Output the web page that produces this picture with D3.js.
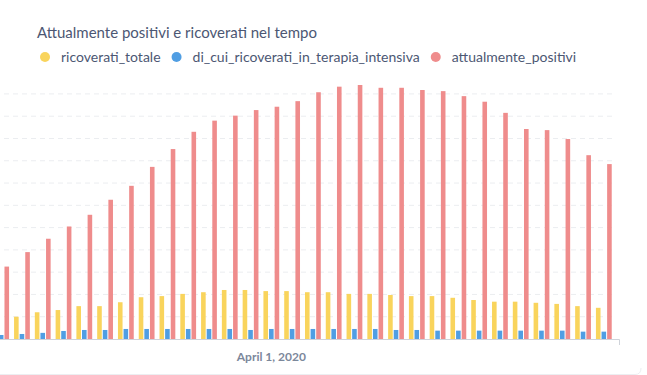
<!DOCTYPE html>
<html>
<head>
<meta charset="utf-8">
<script src="https://cdn.jsdelivr.net/npm/d3@7"></script>
<style>
  body { margin: 0; background: #fff; overflow: hidden; }
  svg { display: block; font-family: Lato, "Open Sans", sans-serif; }
</style>
</head>
<body>
<svg id="chart" width="647" height="375"></svg>
<script>
// days shown (March 19 - April 17, 2020)
var dates = d3.timeDays(new Date(2020, 2, 19), new Date(2020, 3, 18));

var ricoverati_totale = [170, 200, 240, 260, 295, 295, 330, 375, 385, 405, 420, 440, 440, 430,
  430, 420, 420, 405, 405, 395, 385, 385, 370, 350, 335, 335, 325, 315, 295, 280];
var terapia_intensiva = [36, 45, 55, 72, 81, 81, 90, 90, 90, 90, 90, 90, 81, 90,
  90, 90, 90, 90, 90, 81, 81, 75, 75, 75, 75, 75, 75, 75, 66, 66];
var attualmente_positivi = [650, 780, 900, 1010, 1115, 1250, 1375, 1545, 1705, 1860, 1960, 2005, 2055, 2085,
  2135, 2215, 2265, 2280, 2255, 2255, 2235, 2225, 2180, 2130, 2030, 1885, 1875, 1795, 1650, 1570];

var seriesNames = ["ricoverati_totale", "di_cui_ricoverati_in_terapia_intensiva", "attualmente_positivi"];
var seriesValues = [ricoverati_totale, terapia_intensiva, attualmente_positivi];
var colors = ["#F9D45C", "#509EE3", "#EF8C8C"];
var xTickDates = [new Date(2020, 3, 1)];
var yStep = 200;

var svg = d3.select("#chart"),
    // chart is scrolled a little, so the left edge of the plot sits off screen
    margin = {top: 85, right: 28, bottom: 36, left: -14},
    width = +svg.attr("width") - margin.left - margin.right,
    height = +svg.attr("height") - margin.top - margin.bottom;

// card edge at the bottom
svg.append("path")
    .attr("d", "M0,374.5 H635 Q641,374.5 641,368")
    .attr("fill", "none")
    .attr("stroke", "#eceef1");

// title
svg.append("text")
    .attr("x", 37)
    .attr("y", 38)
    .attr("fill", "#4C5773")
    .style("font-size", "15px")
    .text("Attualmente positivi e ricoverati nel tempo");

// legend
var lx = 45;
seriesNames.forEach(function(name, i) {
  svg.append("circle")
      .attr("cx", lx)
      .attr("cy", 57)
      .attr("r", 5)
      .attr("fill", colors[i]);
  var t = svg.append("text")
      .attr("x", lx + 16)
      .attr("y", 62)
      .attr("fill", "#4C5773")
      .style("font-size", "14px")
      .text(name);
  lx += 16 + t.node().getComputedTextLength() + 16;
});

var g = svg.append("g")
    .attr("transform", "translate(" + margin.left + "," + margin.top + ")");

var x0 = d3.scaleBand()
    .domain(dates.map(function(d) { return +d; }))
    .range([0, width])
    .paddingInner(0.24)
    .paddingOuter(0.35);

var x1 = d3.scaleBand()
    .domain(d3.range(seriesNames.length))
    .range([0, x0.bandwidth()])
    .paddingInner(0.18);

var y = d3.scaleLinear()
    .domain([0, d3.max(attualmente_positivi)])
    .range([height, 0]);

// dashed grid lines
g.selectAll(".grid")
  .data(d3.range(yStep, d3.max(attualmente_positivi), yStep))
  .enter().append("line")
    .attr("class", "grid")
    .attr("x1", 0)
    .attr("x2", width - 4)
    .attr("y1", function(d) { return y(d); })
    .attr("y2", function(d) { return y(d); })
    .attr("stroke", "#ebedf0")
    .attr("stroke-dasharray", "5,4");

// bars, one group per day
var groups = g.selectAll(".day")
  .data(dates)
  .enter().append("g")
    .attr("class", "day")
    .attr("transform", function(d) { return "translate(" + x0(+d) + ",0)"; });

groups.selectAll("rect")
  .data(function(d, i) { return seriesValues.map(function(s, k) { return {k: k, v: s[i]}; }); })
  .enter().append("rect")
    .attr("x", function(d) { return x1(d.k); })
    .attr("y", function(d) { return y(d.v); })
    .attr("width", x1.bandwidth())
    .attr("height", function(d) { return height - y(d.v); })
    .attr("fill", function(d) { return colors[d.k]; });

// x axis
var xAxis = d3.axisBottom(x0)
    .tickValues(xTickDates.map(function(d) { return +d; }))
    .tickFormat(function(d) { return d3.timeFormat("%B %-d, %Y")(new Date(d)); })
    .tickSizeInner(0)
    .tickSizeOuter(6)
    .tickPadding(13);

var ax = g.append("g")
    .attr("transform", "translate(0," + height + ")")
    .call(xAxis);
ax.select(".domain").attr("stroke", "#cfd3da");
ax.selectAll(".tick line").remove();
ax.selectAll(".tick text")
    .attr("fill", "#7C889B")
    .style("font-size", "12px")
    .style("font-weight", "bold")
    .style("font-family", "Lato, sans-serif");
</script>
</body>
</html>
